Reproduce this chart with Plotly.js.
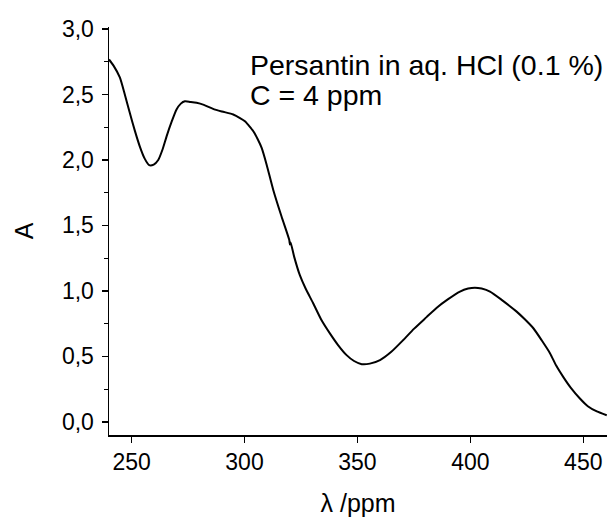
<!DOCTYPE html>
<html>
<head>
<meta charset="utf-8">
<script src="https://cdn.plot.ly/plotly-3.0.1.min.js"></script>
<style>html,body{margin:0;padding:0;background:#fff;}#chart{width:607px;height:517px;}</style>
</head>
<body>
<div id="chart"></div>
<script>
const wavelength = [240, 242, 244.8, 247, 249.2, 251.5, 253.7, 255.8, 257.8, 259.8, 261.8, 263.7, 265.5, 267.7, 269.9, 271.8, 273.6, 276, 278.8, 282, 286.1, 290, 295, 298, 300.2, 302, 303.9, 305.8, 307.6, 309.8, 312.7, 316.4, 319.8, 320.1, 320.4, 322, 324.5, 327, 330.4, 334, 337.8, 341.5, 345.2, 348.5, 351.9, 355.5, 360, 365, 370.3, 375, 380.6, 385, 390, 395.4, 399, 402, 405, 408.7, 414, 420.5, 424, 427.9, 431.5, 435.3, 438, 441.1, 444.5, 448.5, 452, 456, 460.4];
const absorbance = [2.767, 2.72, 2.63, 2.50, 2.36, 2.22, 2.10, 2.01, 1.96, 1.965, 2.00, 2.08, 2.18, 2.29, 2.385, 2.43, 2.448, 2.443, 2.436, 2.42, 2.39, 2.37, 2.347, 2.32, 2.295, 2.26, 2.219, 2.16, 2.092, 1.964, 1.773, 1.568, 1.39, 1.355, 1.37, 1.26, 1.12, 1.02, 0.906, 0.78, 0.676, 0.585, 0.51, 0.465, 0.441, 0.445, 0.472, 0.535, 0.625, 0.71, 0.80, 0.87, 0.935, 0.995, 1.018, 1.025, 1.018, 0.995, 0.93, 0.842, 0.785, 0.715, 0.625, 0.523, 0.43, 0.344, 0.26, 0.179, 0.12, 0.08, 0.051];
const xTicks = [250, 300, 350, 400, 450];
const yTicks = [0, 0.5, 1.0, 1.5, 2.0, 2.5, 3.0];
const annotationLines = ["Persantin in aq. HCl (0.1 %)", "C = 4 ppm"];

const font = {family: "Liberation Sans, Arial, sans-serif", size: 23, color: "#000"};
const annFont = {family: "Liberation Sans, Arial, sans-serif", size: 28.5, color: "#000"};
const titleFont = {family: "Liberation Sans, Arial, sans-serif", size: 25, color: "#000"};

const data = [{
  x: wavelength, y: absorbance, type: "scatter", mode: "lines",
  line: {color: "#000", width: 2, shape: "spline", smoothing: 0.6},
  hoverinfo: "skip"
}];

const layout = {
  width: 607, height: 517,
  margin: {l: 109, r: 0, t: 27, b: 82, pad: 0},
  paper_bgcolor: "#fff", plot_bgcolor: "#fff",
  separators: ",.",
  font: font,
  showlegend: false,
  xaxis: {
    range: [240, 460.5], tickvals: xTicks, ticktext: xTicks.map(String),
    ticks: "outside", ticklen: 6, tickwidth: 1.3, tickcolor: "#000",
    showline: true, linecolor: "#000", linewidth: 1.5, mirror: false,
    showgrid: false, zeroline: false, tickfont: font,
    title: {text: "λ /ppm", font: titleFont, standoff: 28}
  },
  yaxis: {
    range: [-0.1, 3.015], tickvals: yTicks, tickformat: ".1f",
    ticks: "outside", ticklen: 6, tickwidth: 1.3, tickcolor: "#000",
    ticklabelstandoff: 3,
    minor: {dtick: 0.25, tick0: 0, ticks: "outside", ticklen: 4, tickwidth: 1.3, tickcolor: "#000", showgrid: false},
    showline: true, linecolor: "#000", linewidth: 1.5, mirror: false,
    showgrid: false, zeroline: false, tickfont: font,
    title: {text: "A", font: titleFont, standoff: 21}
  },
  annotations: [
    {text: annotationLines[0], xref: "paper", yref: "paper", x: 0.279, y: 0.9075, xanchor: "left", yanchor: "middle", showarrow: false, font: annFont},
    {text: annotationLines[1], xref: "paper", yref: "paper", x: 0.279, y: 0.834, xanchor: "left", yanchor: "middle", showarrow: false, font: annFont}
  ]
};

Plotly.newPlot("chart", data, layout, {staticPlot: true, displayModeBar: false});
</script>
</body>
</html>
